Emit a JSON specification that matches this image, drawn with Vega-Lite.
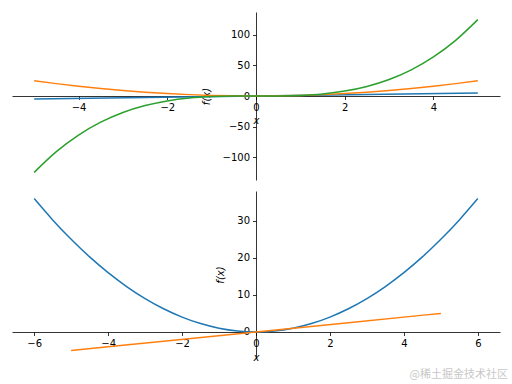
{
  "$schema": "https://vega.github.io/schema/vega-lite/v6.json",
  "padding": {"left": 12, "top": 12, "right": 12, "bottom": 0},
  "spacing": 11,
  "config": {
    "view": {"stroke": null},
    "font": "DejaVu Sans",
    "axis": {
      "grid": false,
      "domainColor": "#000000",
      "domainWidth": 0.8,
      "tickColor": "#000000",
      "tickWidth": 0.8,
      "tickSize": 3.5,
      "labelFont": "DejaVu Sans",
      "labelFontSize": 10,
      "labelColor": "#000000",
      "labelPadding": 3,
      "titleFont": "DejaVu Sans",
      "titleFontSize": 10,
      "titleFontWeight": "normal",
      "titleFontStyle": "italic",
      "titleColor": "#000000",
      "labelFlush": false,
      "labelOverlap": false
    }
  },
  "title": {
    "text": "@稀土掘金技术社区",
    "orient": "bottom",
    "anchor": "end",
    "font": "Noto Sans CJK SC",
    "fontSize": 11,
    "fontWeight": "normal",
    "color": "#c8c8c8",
    "offset": 6,
    "dx": 8
  },
  "datasets": {
    "top": [
      {"s": "f1", "x": -5, "y": -5}, {"s": "f1", "x": -2.5, "y": -2.5}, {"s": "f1", "x": 0, "y": 0}, {"s": "f1", "x": 2.5, "y": 2.5}, {"s": "f1", "x": 5, "y": 5},
      {"s": "f2", "x": -5, "y": 25}, {"s": "f2", "x": -4.5, "y": 20.25}, {"s": "f2", "x": -4, "y": 16}, {"s": "f2", "x": -3.5, "y": 12.25}, {"s": "f2", "x": -3, "y": 9}, {"s": "f2", "x": -2.5, "y": 6.25}, {"s": "f2", "x": -2, "y": 4}, {"s": "f2", "x": -1.5, "y": 2.25}, {"s": "f2", "x": -1, "y": 1}, {"s": "f2", "x": -0.5, "y": 0.25}, {"s": "f2", "x": 0, "y": 0}, {"s": "f2", "x": 0.5, "y": 0.25}, {"s": "f2", "x": 1, "y": 1}, {"s": "f2", "x": 1.5, "y": 2.25}, {"s": "f2", "x": 2, "y": 4}, {"s": "f2", "x": 2.5, "y": 6.25}, {"s": "f2", "x": 3, "y": 9}, {"s": "f2", "x": 3.5, "y": 12.25}, {"s": "f2", "x": 4, "y": 16}, {"s": "f2", "x": 4.5, "y": 20.25}, {"s": "f2", "x": 5, "y": 25},
      {"s": "f3", "x": -5, "y": -125}, {"s": "f3", "x": -4.5, "y": -91.125}, {"s": "f3", "x": -4, "y": -64}, {"s": "f3", "x": -3.5, "y": -42.875}, {"s": "f3", "x": -3, "y": -27}, {"s": "f3", "x": -2.5, "y": -15.625}, {"s": "f3", "x": -2, "y": -8}, {"s": "f3", "x": -1.5, "y": -3.375}, {"s": "f3", "x": -1, "y": -1}, {"s": "f3", "x": -0.5, "y": -0.125}, {"s": "f3", "x": 0, "y": 0}, {"s": "f3", "x": 0.5, "y": 0.125}, {"s": "f3", "x": 1, "y": 1}, {"s": "f3", "x": 1.5, "y": 3.375}, {"s": "f3", "x": 2, "y": 8}, {"s": "f3", "x": 2.5, "y": 15.625}, {"s": "f3", "x": 3, "y": 27}, {"s": "f3", "x": 3.5, "y": 42.875}, {"s": "f3", "x": 4, "y": 64}, {"s": "f3", "x": 4.5, "y": 91.125}, {"s": "f3", "x": 5, "y": 125}
    ],
    "bottom": [
      {"s": "f1", "x": -6, "y": 36}, {"s": "f1", "x": -5.5, "y": 30.25}, {"s": "f1", "x": -5, "y": 25}, {"s": "f1", "x": -4.5, "y": 20.25}, {"s": "f1", "x": -4, "y": 16}, {"s": "f1", "x": -3.5, "y": 12.25}, {"s": "f1", "x": -3, "y": 9}, {"s": "f1", "x": -2.5, "y": 6.25}, {"s": "f1", "x": -2, "y": 4}, {"s": "f1", "x": -1.5, "y": 2.25}, {"s": "f1", "x": -1, "y": 1}, {"s": "f1", "x": -0.5, "y": 0.25}, {"s": "f1", "x": 0, "y": 0}, {"s": "f1", "x": 0.5, "y": 0.25}, {"s": "f1", "x": 1, "y": 1}, {"s": "f1", "x": 1.5, "y": 2.25}, {"s": "f1", "x": 2, "y": 4}, {"s": "f1", "x": 2.5, "y": 6.25}, {"s": "f1", "x": 3, "y": 9}, {"s": "f1", "x": 3.5, "y": 12.25}, {"s": "f1", "x": 4, "y": 16}, {"s": "f1", "x": 4.5, "y": 20.25}, {"s": "f1", "x": 5, "y": 25}, {"s": "f1", "x": 5.5, "y": 30.25}, {"s": "f1", "x": 6, "y": 36},
      {"s": "f2", "x": -5, "y": -5}, {"s": "f2", "x": -2.5, "y": -2.5}, {"s": "f2", "x": 0, "y": 0}, {"s": "f2", "x": 2.5, "y": 2.5}, {"s": "f2", "x": 5, "y": 5}
    ]
  },
  "vconcat": [
    {
      "width": 488,
      "height": 168,
      "data": {"name": "top"},
      "mark": {"type": "line", "interpolate": "monotone", "strokeWidth": 1.5},
      "encoding": {
        "x": {
          "field": "x", "type": "quantitative",
          "scale": {"domain": [-5.5, 5.5], "nice": false, "zero": false},
          "axis": {"title": "x", "values": [-4, -2, 0, 2, 4], "offset": -84, "titlePadding": 3}
        },
        "y": {
          "field": "y", "type": "quantitative",
          "scale": {"domain": [-137.5, 137.5], "nice": false, "zero": false},
          "axis": {"title": "f(x)", "values": [-100, -50, 0, 50, 100], "offset": -244, "titlePadding": 11}
        },
        "color": {
          "field": "s", "type": "nominal",
          "scale": {"domain": ["f1", "f2", "f3"], "range": ["#1f77b4", "#ff7f0e", "#2ca02c"]},
          "legend": null
        }
      }
    },
    {
      "width": 488,
      "height": 167,
      "data": {"name": "bottom"},
      "mark": {"type": "line", "interpolate": "monotone", "strokeWidth": 1.5},
      "encoding": {
        "x": {
          "field": "x", "type": "quantitative",
          "scale": {"domain": [-6.6, 6.6], "nice": false, "zero": false},
          "axis": {"title": "x", "values": [-6, -4, -2, 0, 2, 4, 6], "offset": -26, "titlePadding": 4}
        },
        "y": {
          "field": "y", "type": "quantitative",
          "scale": {"domain": [-7.05, 38.05], "nice": false, "zero": false},
          "axis": {"title": "f(x)", "values": [0, 10, 20, 30], "offset": -244, "titlePadding": 11}
        },
        "color": {
          "field": "s", "type": "nominal",
          "scale": {"domain": ["f1", "f2", "f3"], "range": ["#1f77b4", "#ff7f0e", "#2ca02c"]},
          "legend": null
        }
      }
    }
  ]
}
